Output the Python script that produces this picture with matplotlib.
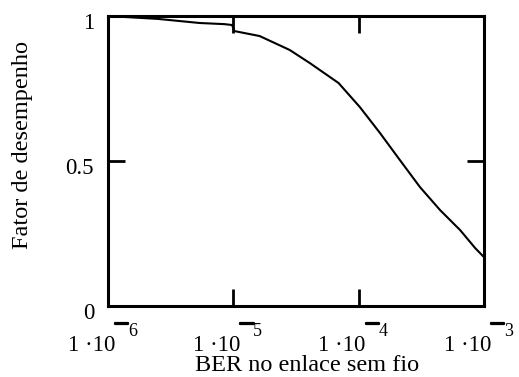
import matplotlib

matplotlib.use("Agg")
import matplotlib.pyplot as plt
import matplotlib.patheffects as pe
import matplotlib.transforms as mtransforms
import numpy as np

# performance factor versus wireless link BER
log_ber = [-6.0, -5.6, -5.27, -5.07, -5.01, -4.99, -4.79, -4.55, -4.39, -4.16,
           -3.99, -3.83, -3.67, -3.51, -3.35, -3.19, -3.07, -3.0]
fator = [1.0, 0.99, 0.976, 0.972, 0.969, 0.948, 0.931, 0.883, 0.838, 0.769,
         0.686, 0.597, 0.503, 0.41, 0.331, 0.262, 0.2, 0.169]

x_ticks = [1e-6, 1e-5, 1e-4, 1e-3]
x_mant = ["1 \u00b710", "1 \u00b710", "1 \u00b710", "1 \u00b710"]
x_exp = ["6", "5", "4", "3"]
y_ticks = [0, 0.5, 1]
y_labels = ["0", "0.5", "1"]

plt.rcParams.update({
    "font.family": "Liberation Serif",
    "font.size": 16.5,
})

fig = plt.figure(figsize=(5.19, 3.77), dpi=100)
ax = fig.add_axes([0.208, 0.188, 0.7245, 0.7695])
ax.plot(10 ** np.array(log_ber), fator, color="black", linewidth=1.5)
ax.set_xscale("log")
ax.set_xlim(1e-6, 1e-3)
ax.set_ylim(0, 1)
ax.minorticks_off()
ax.set_xticks(x_ticks)
ax.set_xticklabels([])
ax.set_yticks(y_ticks)
ax.set_yticklabels(y_labels)
ax.tick_params(direction="in", length=12, width=2, top=True, right=True)
ax.tick_params(axis="y", pad=10)
for spine in ax.spines.values():
    spine.set_linewidth(2.2)
# y labels sit with their baseline a bit under the tick
shift = mtransforms.ScaledTranslation(0, -13 / 100, fig.dpi_scale_trans)
for lab in ax.get_yticklabels():
    lab.set_verticalalignment("baseline")
    lab.set_transform(lab.get_transform() + shift)


def off(dx, dy):
    # offset in pixels from (tick, bottom spine)
    return ax.get_xaxis_transform() + mtransforms.ScaledTranslation(
        dx / 100, -dy / 100, fig.dpi_scale_trans)


# Mathcad-like "1·10^-n" labels: mantissa, raised bar, raised exponent
for xt, mant, ex in zip(x_ticks, x_mant, x_exp):
    ax.text(xt, 0, mant, transform=off(7, 45), ha="right", va="baseline",
            fontsize=16.5, clip_on=False)
    ax.text(xt, 0, "\u2014", transform=off(7, 20.5), ha="left", va="baseline",
            fontsize=9.5, clip_on=False,
            path_effects=[pe.withStroke(linewidth=1.6, foreground="black")])
    ax.text(xt, 0, ex, transform=off(20, 30), ha="left", va="baseline",
            fontsize=13, clip_on=False)

fig.text(307 / 519, 1 - 371 / 377, "BER no enlace sem fio", ha="center",
         va="baseline", fontsize=17.5)
fig.text(23 / 519, 1 - 145 / 377, "Fator de desempenho", ha="center",
         va="center", rotation=90, fontsize=17.5)

fig.savefig("out.png", dpi=100)
